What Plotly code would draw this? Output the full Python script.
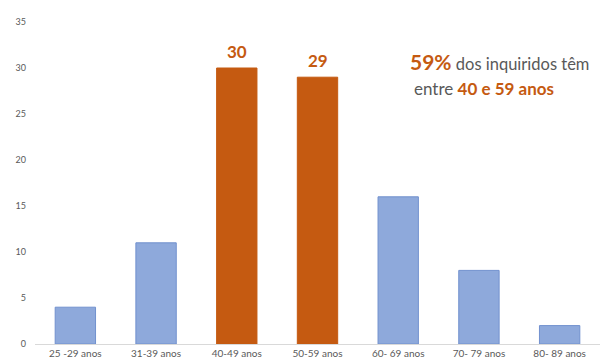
import plotly.graph_objects as go

categories = ["25 -29 anos", "31-39 anos", "40-49 anos", "50-59 anos", "60- 69 anos", "70- 79 anos", "80- 89 anos"]
values = [4, 11, 30, 29, 16, 8, 2]
highlight = [False, False, True, True, False, False, False]
y_ticks = [0, 5, 10, 15, 20, 25, 30, 35]

BLUE = "#8EA9DB"
BLUE_EDGE = "#7191CE"
ORANGE = "#C55A11"
GREY = "#595959"

colors = [ORANGE if h else BLUE for h in highlight]
edges = [ORANGE if h else BLUE_EDGE for h in highlight]

fig = go.Figure(go.Bar(
    x=categories, y=values,
    marker=dict(color=colors, line=dict(color=edges, width=1)),
    width=0.5,
))

annotations = []
for c, v, h in zip(categories, values, highlight):
    if h:
        annotations.append(dict(x=c, y=v, xref="x", yref="y", text=f"<b>{v}</b>",
                                showarrow=False, yshift=17,
                                font=dict(family="Lato", size=17, color=ORANGE)))

annotations += [
    dict(xref="paper", yref="paper", x=0.66, y=0.876, xanchor="left", yanchor="middle",
         showarrow=False, align="left",
         text=f"<span style='color:{ORANGE};font-size:21px'><b>59%</b></span>"
              f"<span style='color:{GREY};font-size:16.5px'> dos inquiridos têm</span>"),
    dict(xref="paper", yref="paper", x=0.667, y=0.792, xanchor="left", yanchor="middle",
         showarrow=False, align="left",
         text=f"<span style='color:{GREY};font-size:17px'>entre </span>"
              f"<span style='color:{ORANGE};font-size:17px'><b>40 e 59 anos</b></span>"),
]

fig.update_layout(
    width=600, height=353,
    margin=dict(l=27, r=8, t=14, b=17),
    paper_bgcolor="white", plot_bgcolor="white",
    font=dict(family="Lato", color=GREY),
    showlegend=False,
    xaxis=dict(showline=True, linecolor="#D9D9D9", linewidth=1, ticks="", automargin=False,
               tickfont=dict(size=10, color=GREY), showgrid=False),
    yaxis=dict(range=[0, 35], tickvals=y_ticks, showgrid=False, zeroline=False, automargin=False,
               tickfont=dict(size=9, color=GREY), ticklabelstandoff=8),
    annotations=annotations,
)

fig.write_html("out.html")
